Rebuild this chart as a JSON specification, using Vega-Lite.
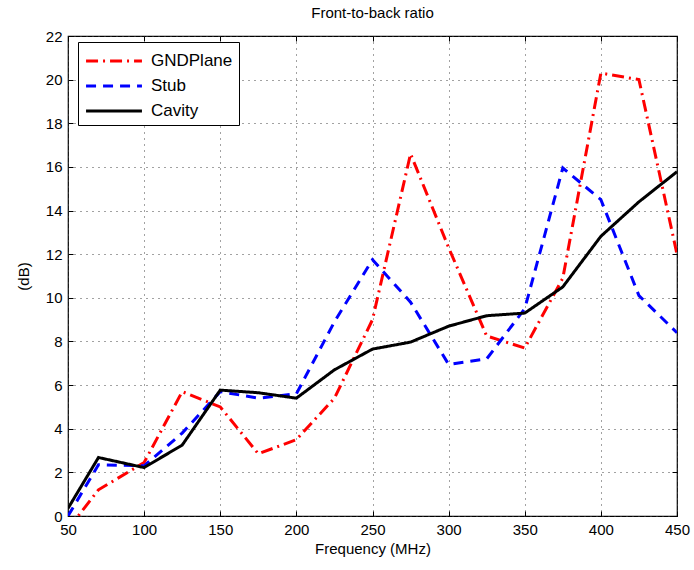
{
  "$schema": "https://vega.github.io/schema/vega-lite/v6.json",
  "width": 609,
  "height": 480,
  "autosize": "none",
  "padding": {"left": 68, "top": 36, "right": 17, "bottom": 54},
  "title": {"text": "Front-to-back ratio", "fontSize": 15, "fontWeight": "normal", "font": "Liberation Sans", "offset": 8, "color": "black"},
  "config": {
    "font": "Liberation Sans",
    "view": {"stroke": "black", "strokeWidth": 1.2},
    "axis": {"labelFontSize": 15, "labelColor": "black", "titleFontSize": 15, "titleFontWeight": "normal", "titleColor": "black", "domain": false, "grid": true, "gridDash": [1, 5], "gridColor": "#444", "gridOpacity": 1, "ticks": true, "tickSize": -5, "tickColor": "black", "labelPadding": 11, "labelFlush": false}
  },
  "data": {"values": [
    {"f": 50, "v": -0.6, "s": "GNDPlane"},
    {"f": 70, "v": 1.2, "s": "GNDPlane"},
    {"f": 100, "v": 2.45, "s": "GNDPlane"},
    {"f": 125, "v": 5.7, "s": "GNDPlane"},
    {"f": 150, "v": 5.0, "s": "GNDPlane"},
    {"f": 175, "v": 2.85, "s": "GNDPlane"},
    {"f": 200, "v": 3.5, "s": "GNDPlane"},
    {"f": 225, "v": 5.4, "s": "GNDPlane"},
    {"f": 250, "v": 9.0, "s": "GNDPlane"},
    {"f": 275, "v": 16.6, "s": "GNDPlane"},
    {"f": 300, "v": 12.3, "s": "GNDPlane"},
    {"f": 325, "v": 8.25, "s": "GNDPlane"},
    {"f": 350, "v": 7.7, "s": "GNDPlane"},
    {"f": 375, "v": 10.9, "s": "GNDPlane"},
    {"f": 400, "v": 20.3, "s": "GNDPlane"},
    {"f": 425, "v": 20.0, "s": "GNDPlane"},
    {"f": 450, "v": 12.0, "s": "GNDPlane"},
    {"f": 50, "v": 0.0, "s": "Stub"},
    {"f": 70, "v": 2.35, "s": "Stub"},
    {"f": 100, "v": 2.3, "s": "Stub"},
    {"f": 125, "v": 3.8, "s": "Stub"},
    {"f": 150, "v": 5.7, "s": "Stub"},
    {"f": 175, "v": 5.4, "s": "Stub"},
    {"f": 200, "v": 5.6, "s": "Stub"},
    {"f": 225, "v": 8.9, "s": "Stub"},
    {"f": 250, "v": 11.75, "s": "Stub"},
    {"f": 275, "v": 9.8, "s": "Stub"},
    {"f": 300, "v": 6.95, "s": "Stub"},
    {"f": 325, "v": 7.2, "s": "Stub"},
    {"f": 350, "v": 9.5, "s": "Stub"},
    {"f": 375, "v": 15.95, "s": "Stub"},
    {"f": 400, "v": 14.5, "s": "Stub"},
    {"f": 425, "v": 10.1, "s": "Stub"},
    {"f": 450, "v": 8.4, "s": "Stub"},
    {"f": 50, "v": 0.35, "s": "Cavity"},
    {"f": 70, "v": 2.68, "s": "Cavity"},
    {"f": 100, "v": 2.22, "s": "Cavity"},
    {"f": 125, "v": 3.25, "s": "Cavity"},
    {"f": 150, "v": 5.77, "s": "Cavity"},
    {"f": 175, "v": 5.65, "s": "Cavity"},
    {"f": 200, "v": 5.4, "s": "Cavity"},
    {"f": 225, "v": 6.7, "s": "Cavity"},
    {"f": 250, "v": 7.65, "s": "Cavity"},
    {"f": 275, "v": 7.97, "s": "Cavity"},
    {"f": 300, "v": 8.7, "s": "Cavity"},
    {"f": 325, "v": 9.18, "s": "Cavity"},
    {"f": 350, "v": 9.3, "s": "Cavity"},
    {"f": 375, "v": 10.5, "s": "Cavity"},
    {"f": 400, "v": 12.82, "s": "Cavity"},
    {"f": 425, "v": 14.4, "s": "Cavity"},
    {"f": 450, "v": 15.78, "s": "Cavity"}
  ]},
  "resolve": {"axis": {"x": "independent", "y": "independent"}},
  "layer": [
    {
      "mark": {"type": "line", "clip": true, "strokeWidth": 3},
      "encoding": {
        "x": {"field": "f", "type": "quantitative", "scale": {"domain": [50, 450], "nice": false, "zero": false}, "axis": {"title": "Frequency (MHz)", "values": [50, 100, 150, 200, 250, 300, 350, 400, 450], "titlePadding": 4}},
        "y": {"field": "v", "type": "quantitative", "scale": {"domain": [0, 22], "nice": false}, "axis": {"title": "(dB)", "values": [0, 2, 4, 6, 8, 10, 12, 14, 16, 18, 20, 22], "titlePadding": 14}},
        "detail": {"field": "s"},
        "color": {"field": "s", "type": "nominal", "scale": {"domain": ["GNDPlane", "Stub", "Cavity"], "range": ["#ff0000", "#0000ff", "#000000"]},
          "legend": {"title": null, "orient": "none", "legendX": 10, "legendY": 6, "symbolType": "M-2.5,0H2.5", "symbolSize": 500, "symbolStrokeWidth": 3, "symbolOffset": 17, "labelFontSize": 17, "labelColor": "black", "strokeColor": "black", "fillColor": "white", "padding": 6, "rowPadding": 4, "labelOffset": 24}},
        "strokeDash": {"field": "s", "type": "nominal", "scale": {"domain": ["GNDPlane", "Stub", "Cavity"], "range": [[12, 5, 2, 5], [10, 7], [1, 0]]}, "legend": null}
      }
    },
    {
      "mark": {"type": "point", "opacity": 0},
      "encoding": {
        "x": {"field": "f", "type": "quantitative", "axis": {"orient": "top", "title": null, "labels": false, "grid": false, "values": [50, 100, 150, 200, 250, 300, 350, 400, 450]}},
        "y": {"field": "v", "type": "quantitative", "axis": {"orient": "right", "title": null, "labels": false, "grid": false, "values": [0, 2, 4, 6, 8, 10, 12, 14, 16, 18, 20, 22]}}
      }
    }
  ]
}
